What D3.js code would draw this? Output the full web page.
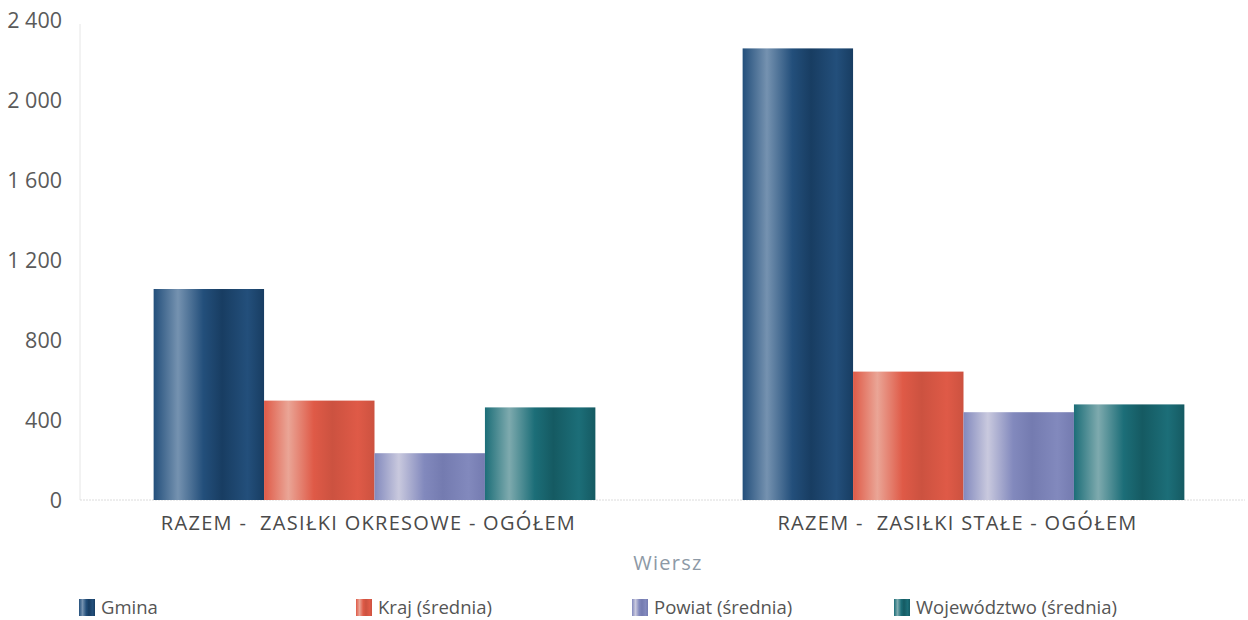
<!DOCTYPE html>
<html>
<head>
<meta charset="utf-8">
<script src="https://cdn.jsdelivr.net/npm/d3@7"></script>
<style>
  body { margin: 0; background: #fff; }
  svg { font-family: "Open Sans", sans-serif; }
  .cat, .title { white-space: pre; }
</style>
</head>
<body>
<div id="chart"></div>
<script>
// chart data
var categories = ["RAZEM -  ZASIŁKI OKRESOWE - OGÓŁEM", "RAZEM -  ZASIŁKI STAŁE - OGÓŁEM"];
var seriesNames = ["Gmina", "Kraj (średnia)", "Powiat (średnia)", "Województwo (średnia)"];
var gmina = [1055, 2258];
var kraj = [497, 642];
var powiat = [234, 439];
var wojewodztwo = [463, 478];
var yTicks = [0, 400, 800, 1200, 1600, 2000, 2400];

var seriesValues = [gmina, kraj, powiat, wojewodztwo];
var colors = [
  {base: "#234f7b", light: "#7592b0", dark: "#183d62"},
  {base: "#df5a47", light: "#eaa596", dark: "#cc5240"},
  {base: "#8289bd", light: "#c9c9de", dark: "#747bb0"},
  {base: "#1c6e78", light: "#7eaaae", dark: "#155a62"}
];

var width = 1248, height = 620;
var m = {left: 80, right: 3, top: 20, bottom: 120};
var legendX = [79, 356, 632, 894];

var svg = d3.select("#chart").append("svg")
  .attr("width", width).attr("height", height);

var defs = svg.append("defs");
colors.forEach(function(c, i) {
  var g = defs.append("linearGradient").attr("id", "grad" + i)
    .attr("x1", "0%").attr("x2", "100%").attr("y1", "0%").attr("y2", "0%");
  [[0, c.base], [0.22, c.light], [0.45, c.base], [0.62, c.dark], [0.85, c.base], [1, c.dark]]
    .forEach(function(s) { g.append("stop").attr("offset", s[0]).attr("stop-color", s[1]); });
});

var y = d3.scaleLinear().domain([0, 2400]).range([height - m.bottom, m.top]);
var x0 = d3.scaleBand().domain(categories).range([m.left, 1258])
  .paddingInner(0.25).paddingOuter(0.125);
var x1 = d3.scaleBand().domain(d3.range(seriesNames.length)).range([0, x0.bandwidth()]);

// axis lines
svg.append("line")
  .attr("x1", m.left).attr("x2", m.left)
  .attr("y1", y(2400) + 4).attr("y2", y(0))
  .attr("stroke", "#e6e6e6");
svg.append("line")
  .attr("x1", m.left).attr("x2", 1245)
  .attr("y1", y(0)).attr("y2", y(0))
  .attr("stroke", "#dcdcdc").attr("stroke-dasharray", "2,1");

// y tick labels
var fmt = function(v) { return d3.format(",")(v).replace(/,/g, " "); };
svg.selectAll(".ytick").data(yTicks).enter().append("text")
  .attr("class", "ytick")
  .attr("x", 62).attr("y", function(d) { return y(d); })
  .attr("dy", "0.35em")
  .attr("text-anchor", "end")
  .attr("font-size", 21.5).attr("fill", "#5a5a5a")
  .text(fmt);

// bars
var groups = svg.selectAll(".grp").data(categories).enter().append("g")
  .attr("class", "grp")
  .attr("transform", function(d) { return "translate(" + x0(d) + ",0)"; });

groups.selectAll("rect")
  .data(function(d, ci) { return seriesValues.map(function(s, si) { return {si: si, v: s[ci]}; }); })
  .enter().append("rect")
  .attr("x", function(d) { return x1(d.si); })
  .attr("width", x1.bandwidth())
  .attr("y", function(d) { return y(d.v); })
  .attr("height", function(d) { return y(0) - y(d.v); })
  .attr("fill", function(d) { return "url(#grad" + d.si + ")"; });

// category labels
svg.selectAll(".cat").data(categories).enter().append("text")
  .attr("class", "cat")
  .attr("x", function(d) { return x0(d) + x0.bandwidth() / 2 - 6; })
  .attr("y", y(0) + 30)
  .attr("text-anchor", "middle")
  .attr("font-size", 20).attr("letter-spacing", 1.3).attr("fill", "#4a4a4a")
  .text(function(d) { return d; });

// axis title
svg.append("text")
  .attr("class", "title")
  .attr("x", 668).attr("y", 570)
  .attr("text-anchor", "middle")
  .attr("font-size", 20).attr("letter-spacing", 1.3).attr("fill", "#8d99a6")
  .text("Wiersz");

// legend
var legend = svg.selectAll(".leg").data(seriesNames).enter().append("g")
  .attr("class", "leg")
  .attr("transform", function(d, i) { return "translate(" + legendX[i] + ",599)"; });
legend.append("rect")
  .attr("width", 16).attr("height", 17)
  .attr("fill", function(d, i) { return "url(#grad" + i + ")"; });
legend.append("text")
  .attr("x", 22).attr("y", 9).attr("dy", "0.35em")
  .attr("font-size", 18.5).attr("fill", "#555")
  .text(function(d) { return d; });
</script>
</body>
</html>
